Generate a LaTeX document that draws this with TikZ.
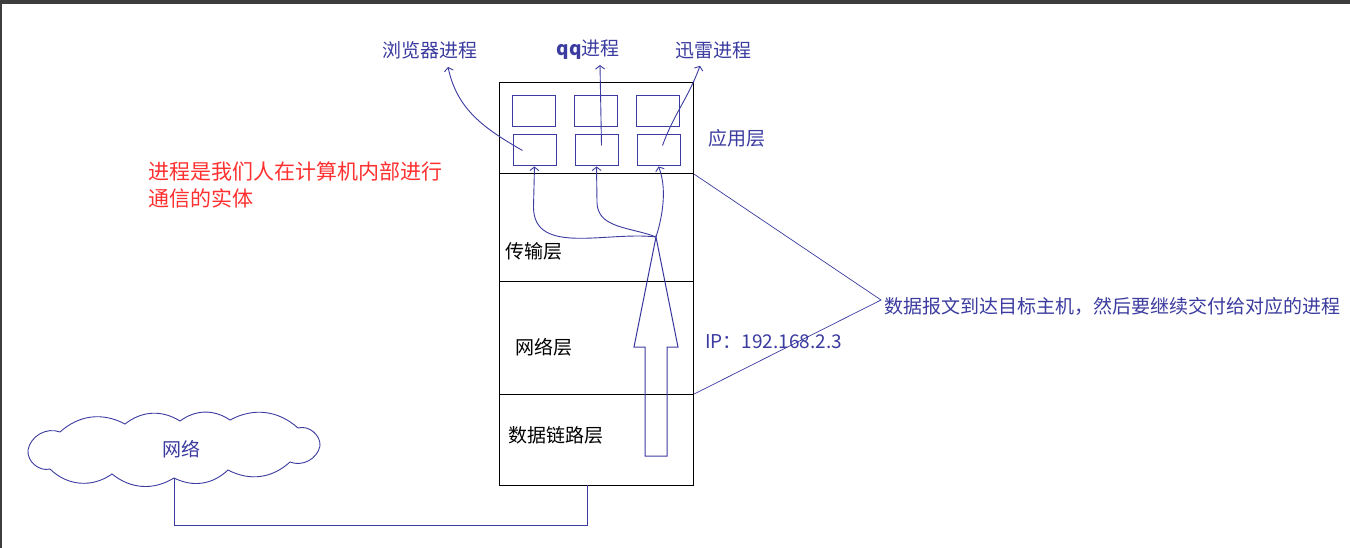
\documentclass[tikz,border=0pt]{standalone}
\usepackage{fontspec}
\usetikzlibrary{arrows.meta}
\newfontfamily\cjkfont{Noto Sans CJK SC}
\definecolor{netblue}{HTML}{3B3BA0}
\definecolor{netred}{HTML}{FF3030}
\definecolor{netframe}{HTML}{3D3D3D}

\begin{document}
\begin{tikzpicture}[x=1pt, y=-1pt, >={Straight Barb[length=3.5pt, width=9pt]},
        lbl/.style={font=\cjkfont\fontsize{19}{22}\selectfont, text=netblue, inner sep=0pt},
        layertxt/.style={font=\cjkfont\fontsize{19}{22}\selectfont, text=black, inner sep=0pt},
        layer/.style={draw=black, line width=1.2pt, minimum width=194pt, inner sep=0pt, anchor=north west},
        slot/.style={draw=netblue, line width=1pt, minimum width=43pt, minimum height=31pt, inner sep=0pt},
        wire/.style={draw=netblue, line width=0.9pt}]
      \fill[white] (0,0) rectangle (1350,548);
      \useasboundingbox (0,0) rectangle (1350,548);
      % window edge of the screenshot
      \fill[netframe] (0,0) rectangle (1350,4.5);
      \draw[netframe, line width=1.5pt] (0.75,4) -- (0.75,548);

      % protocol stack
      \node[layer, minimum height=91pt]  (appLayer) at (499,82)  {};
      \node[layer, minimum height=108pt] (tpLayer)  at (499,173) {};
      \node[layer, minimum height=113pt] (nwLayer)  at (499,281) {};
      \node[layer, minimum height=91pt]  (dlLayer)  at (499,394) {};

      \node[layertxt] (tpTxt) at (534,251) {传输层};
      \node[layertxt] (nwTxt) at (544,347) {网络层};
      \node[layertxt] (dlTxt) at (556,435) {数据链路层};
      \node[lbl] (appTxt) at (737,138) {应用层};

      % sockets of the application layer
      \node[slot] (slotA) at (533.5,111.5) {};
      \node[slot] (slotB) at (595.5,111.5) {};
      \node[slot] (slotC) at (657.5,111.5) {};
      \node[slot] (browserPort) at (534.5,150.5) {};
      \node[slot] (qqPort)      at (596.5,150.5) {};
      \node[slot] (xlPort)      at (658.5,150.5) {};

      \node[lbl] (lblBrowser) at (430,50) {浏览器进程};
      \node[lbl] (lblQQ)      at (588,50) {\textbf{qq}进程};
      \node[lbl] (lblXl)      at (713,50) {迅雷进程};

      \draw[wire, ->] ([xshift=-12pt]browserPort.center) to[out=150, in=-78]
        ([xshift=18pt, yshift=-8pt]lblBrowser.south);
      \draw[wire, ->] ([xshift=5pt, yshift=5pt]qqPort.center) -- ([xshift=12pt, yshift=-5pt]lblQQ.south);
      \draw[wire, ->] ([xshift=4pt, yshift=5pt]xlPort.center) to[out=70, in=-110]
        ([xshift=-13pt, yshift=-7pt]lblXl.south);

      % hollow arrow climbing the stack
      \coordinate (bigTip) at (656,237);
      \draw[wire, line width=1pt] (645,456) -- (645,347) -- (634,347) -- (bigTip)
        -- (678,347) -- (667,347) -- (667,456) -- cycle;

      % demultiplexing to the sockets
      \draw[wire, ->] (bigTip) to[out=173, in=-90] ++(-122.5,-30) -- (browserPort.south);
      \draw[wire, ->] (bigTip) to[out=158, in=-90] ++(-59,-35) -- (qqPort.south);
      \draw[wire, ->] (bigTip) .. controls (663,215) and (667,188) .. (xlPort.south);

      % note on the right
      \coordinate (notePt) at (881,300);
      \node[lbl, anchor=west] (note) at (884,306) {数据报文到达目标主机，然后要继续交付给对应的进程};
      \draw[wire, line width=0.7pt] (appLayer.south east) -- (notePt) -- (dlLayer.north east);
      \node[lbl, anchor=west] (ipTxt) at (705,342) {IP：192.168.2.3};

      \node[font=\cjkfont\fontsize{21}{27}\selectfont, text=netred, align=left,
        anchor=west, inner sep=0pt] (defTxt) at (148,185.5) {进程是我们人在计算机内部进行\\通信的实体};

      % the network, drawn as puffs
      \coordinate (cloudFoot) at (174,478);
      \draw[wire] (28,450) to[bend left=50] (60,432) to[bend left=35] (125,424)
        to[bend left=35] (180,421) to[bend left=35] (230,420) to[bend left=35] (298,428)
        to[bend left=55] (320,446) to[bend left=50] (290,462) to[bend left=35] (228,470)
        to[bend left=35] (cloudFoot) to[bend left=35] (112,474) to[bend left=40] (50,469)
        to[bend left=55] cycle;
      \node[lbl] (netTxt) at (181,449) {网络};
      \coordinate (dlFoot) at (587,485);
      \draw[wire] (cloudFoot) |- (587,525) -- (dlFoot);
    \end{tikzpicture}
\end{document}
